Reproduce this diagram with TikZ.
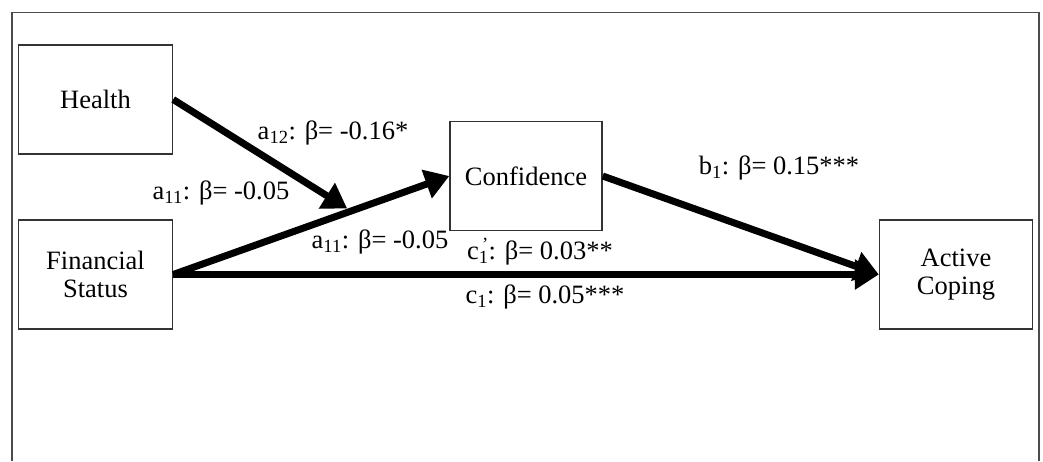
\documentclass[tikz,border=0pt]{standalone}
\usepackage{fontspec}
\setmainfont{Liberation Serif}
\usetikzlibrary{arrows.meta,calc}
\begin{document}
\begin{tikzpicture}[x=1pt,y=-1pt,
  box/.style={draw=black!80,line width=1.4pt,minimum width=154pt,minimum height=109pt,inner sep=0pt,align=center,font=\fontsize{26.5}{28}\selectfont},
  lbl/.style={inner sep=0pt,font=\fontsize{26.5}{30}\selectfont},
  path/.style={line width=7pt,-{Triangle[length=24pt,width=29pt]}}]
\useasboundingbox (0,0) rectangle (1043,461);
\fill[white] (0,0) rectangle (1043,461);
\draw[black!70,line width=1.5pt] (12,461) -- (12,12.5) -- (1039,12.5) -- (1039,461);
\node[box] (H) at (95.5,99.5) {Health};
\node[box] (F) at (95.5,274.5) {Financial\\Status};
\node[box,minimum width=152pt,minimum height=109.5pt] (C) at (526,176) {Confidence};
\node[box,minimum width=153pt] (A) at (956,274.5) {Active\\Coping};
\coordinate (M) at ($($(F.east)!0.63!(C.west)$)+(0,-4)$);
\draw[path] (F.east) -- (C.west);
\draw[path] (H.east) -- (M);
\draw[path] (C.east) -- (A.west);
\draw[path] (F.east) -- (A.west);
\node[lbl] (l1) at (333,133) {a\textsubscript{12}: β= -0.16*};
\node[lbl] (l2) at (221,193) {a\textsubscript{11}: β= -0.05};
\node[lbl] (l3) at (380,242) {a\textsubscript{11}: β= -0.05};
\node[lbl] (l4) at (779,168) {b\textsubscript{1}: β= 0.15***};
\node[lbl] (l5) at (540,252) {c\rlap{\textsubscript{1}}\textsuperscript{\,’}: β= 0.03**};
\node[lbl] (l6) at (545,297) {c\textsubscript{1}: β= 0.05***};
\end{tikzpicture}
\end{document}
